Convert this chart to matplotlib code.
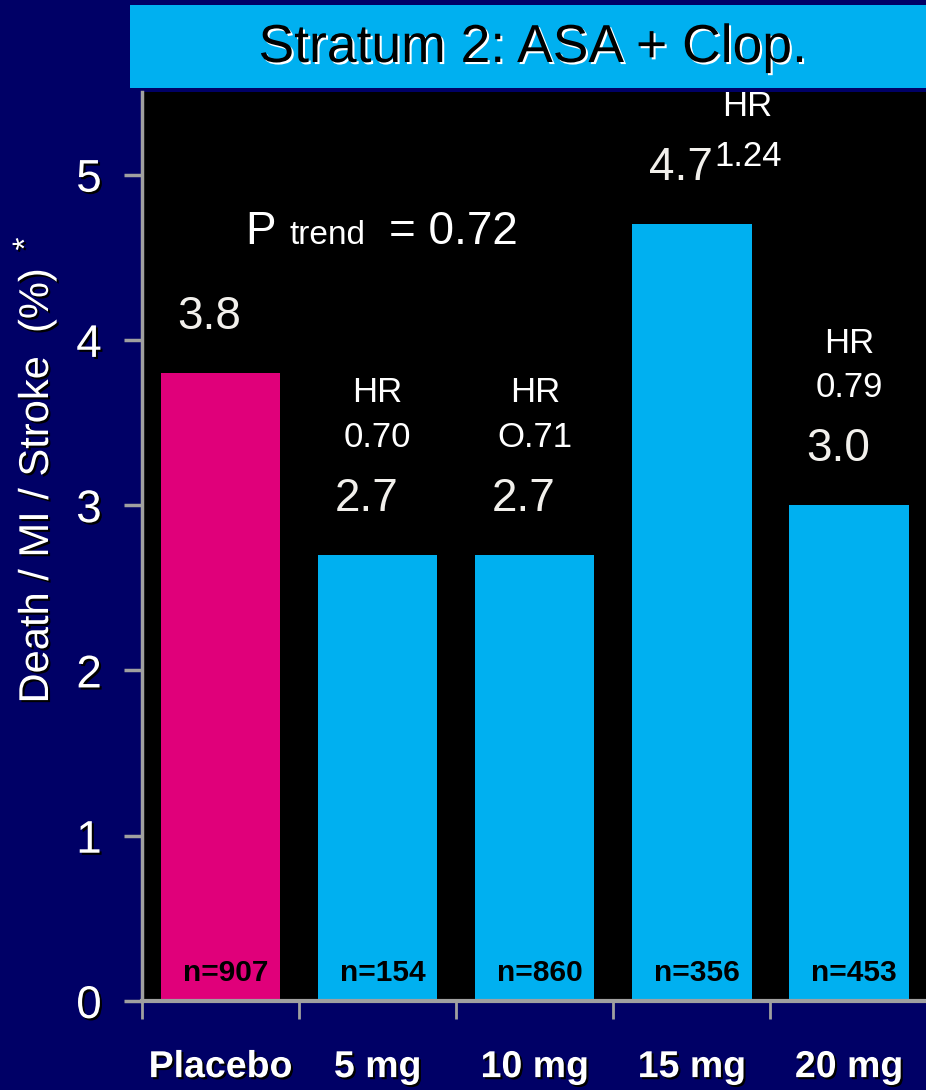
import matplotlib
matplotlib.use('Agg')
import matplotlib.pyplot as plt
import matplotlib.patheffects as pe
from matplotlib.patches import Rectangle

# data
groups = ['Placebo', '5 mg', '10 mg', '15 mg', '20 mg']
event_rate = [3.8, 2.7, 2.7, 4.7, 3.0]
rate_labels = ['3.8', '2.7', '2.7', '4.7', '3.0']
hr_labels = [None, '0.70', 'O.71', '1.24', '0.79']
n_sizes = [907, 154, 860, 356, 453]
p_trend = '0.72'

navy = '#000066'
cyan = '#00B0F0'
magenta = '#E0007A'
grey = '#A0A0A0'
white = '#FFFFFF'
offwhite = '#F2F0EC'

plt.rcParams['font.family'] = ['Liberation Sans', 'DejaVu Sans']

fig = plt.figure(figsize=(9.26, 10.9), dpi=100)
fig.patch.set_facecolor(navy)

ax = fig.add_axes([142 / 926, 89 / 1090, 784 / 926, 909 / 1090])
ax.set_facecolor('black')

colors = [magenta] + [cyan] * (len(groups) - 1)
xs = list(range(len(groups)))
ax.bar(xs, event_rate, width=0.76, color=colors, zorder=2)

ax.set_xlim(-0.5, 4.49)
ax.set_ylim(0, 5.5)

shadow = [pe.withSimplePatchShadow(offset=(1.5, -1.5), shadow_rgbFace='black', alpha=1.0)]

# y axis
ax.set_yticks([0, 1, 2, 3, 4, 5])
ax.set_yticklabels(['0', '1', '2', '3', '4', '5'])
ax.tick_params(axis='y', colors=grey, labelcolor=white, labelsize=33, length=13, width=2.5, pad=16)

# x axis: ticks sit between the groups
ax.set_xticks([-0.5, 0.5, 1.5, 2.5, 3.5])
ax.set_xticklabels([])
ax.tick_params(axis='x', colors=grey, length=13, width=2, direction='out')
for i, g in enumerate(groups):
    ax.text(i, -0.40, g, ha='center', va='center', fontsize=27, fontweight='bold',
            color=white, path_effects=shadow, clip_on=False)

for side in ['top', 'right']:
    ax.spines[side].set_visible(False)
ax.spines['left'].set_color(grey)
ax.spines['left'].set_linewidth(2.5)
ax.spines['bottom'].set_color(grey)
ax.spines['bottom'].set_linewidth(3)

for lab in ax.get_yticklabels():
    lab.set_path_effects(shadow)

fig.text(37 / 926, 1 - 486 / 1090, 'Death / MI / Stroke  (%)', rotation=90, fontsize=30,
         color=white, ha='center', va='center', path_effects=shadow)
fig.text(27 / 926, 1 - 244 / 1090, '*', fontsize=24, color=white, rotation=90,
         ha='center', va='center', path_effects=shadow)

# n per bar
for i, n in enumerate(n_sizes):
    ax.text(i + 0.03, 0.17, f'n={n}', ha='center', va='center', fontsize=21.5,
            fontweight='bold', color='black', zorder=3)

# event rates and hazard ratios
for i, (v, lab, hr) in enumerate(zip(event_rate, rate_labels, hr_labels)):
    ax.text(i - 0.07, v + 0.34, lab, ha='center', va='center', fontsize=33, color=offwhite)
    if hr is None:
        continue
    if i == 3:
        ax.text(i + 0.35, v + 0.71, 'HR', ha='center', va='center', fontsize=25, color=white)
        ax.text(i + 0.36, v + 0.41, hr, ha='center', va='center', fontsize=25, color=white)
    else:
        ax.text(i, v + 0.98, 'HR', ha='center', va='center', fontsize=25, color=white)
        ax.text(i, v + 0.71, hr, ha='center', va='center', fontsize=25, color=white)

# P trend
ax.text(0.16, 4.58, 'P', ha='left', va='baseline', fontsize=33, color=white)
ax.text(0.44, 4.58, 'trend', ha='left', va='baseline', fontsize=24, color=white)
ax.text(1.07, 4.58, '= ' + p_trend, ha='left', va='baseline', fontsize=33, color=white)

# title banner
fig.patches.append(Rectangle((130 / 926, 1 - 88 / 1090), 796 / 926, 83 / 1090,
                             transform=fig.transFigure, facecolor=cyan, edgecolor='none'))
fig.text(533 / 926, 1 - 48 / 1090, 'Stratum 2: ASA + Clop.', ha='center', va='center',
         fontsize=38.5, color='black',
         path_effects=[pe.withSimplePatchShadow(offset=(1.5, -1.5), shadow_rgbFace='white', alpha=1.0)])

fig.savefig('out.png', dpi=100, facecolor=navy)
